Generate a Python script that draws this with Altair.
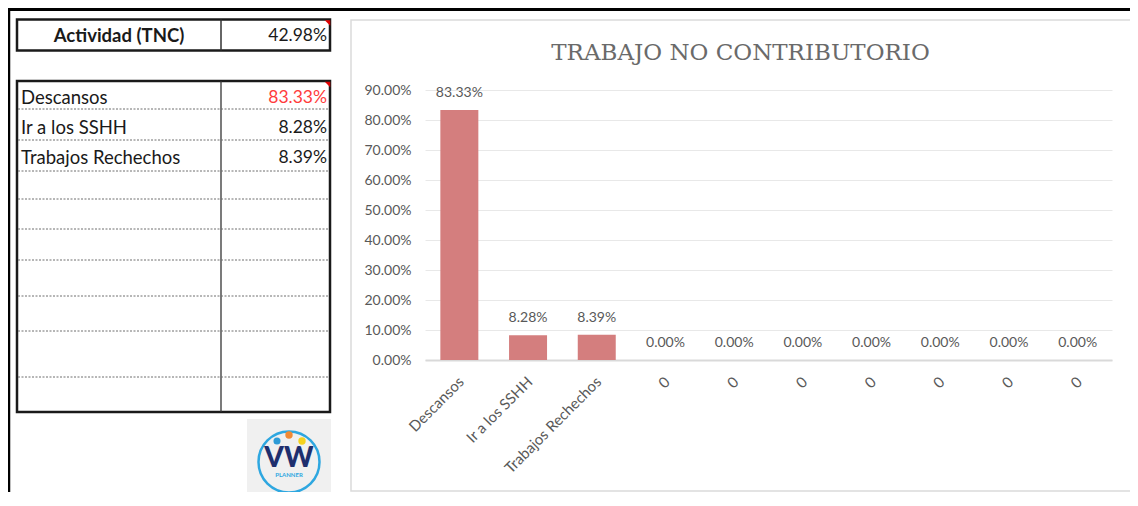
import json
import altair as alt
import pandas as pd

# ---------------- data ----------------
categories = ["Descansos", "Ir a los SSHH", "Trabajos Rechechos", "0", "0", "0", "0", "0", "0", "0"]
values = [0.8333, 0.0828, 0.0839, 0.0, 0.0, 0.0, 0.0, 0.0, 0.0, 0.0]
y_ticks = [0.0, 0.1, 0.2, 0.3, 0.4, 0.5, 0.6, 0.7, 0.8, 0.9]
chart_title = "TRABAJO NO CONTRIBUTORIO"

header_label = "Actividad (TNC)"
header_value = 0.4298
table_labels = ["Descansos", "Ir a los SSHH", "Trabajos Rechechos"]
table_values = [0.8333, 0.0828, 0.0839]
table_highlight = [True, False, False]

logo_word = "VW"
logo_sub = "PLANNER"

# ---------------- layout ----------------
OX, OY = 425, 90          # page position of the plot origin
W, H = 687, 270
PAD = {"left": OX - 8, "top": OY - 8, "right": 1122 - (OX - 8) - W, "bottom": 484 - (OY - 8) - H}


def rx(a):
    return a - OX


def ry(a):
    return a - OY


FONT = "Lato"
GRAY = "#595959"
INK = "#1a1a1a"
one = pd.DataFrame({"k": [0]})


def hline(x1, x2, y, color, width, dash=None):
    kw = dict(color=color, strokeWidth=width)
    if dash:
        kw["strokeDash"] = dash
    return alt.Chart(one).mark_rule(**kw).encode(
        x=alt.value(rx(x1)), x2=alt.value(rx(x2)), y=alt.value(ry(y)))


def vline(x, y1, y2, color, width):
    return alt.Chart(one).mark_rule(color=color, strokeWidth=width).encode(
        x=alt.value(rx(x)), y=alt.value(ry(y1)), y2=alt.value(ry(y2)))


def box(x1, x2, y1, y2, stroke, width, fill="white", fill_opacity=0.0):
    return alt.Chart(one).mark_rect(fill=fill, fillOpacity=fill_opacity,
                                    stroke=stroke, strokeWidth=width).encode(
        x=alt.value(rx(x1)), x2=alt.value(rx(x2)), y=alt.value(ry(y1)), y2=alt.value(ry(y2)))


def dot(x, y, size, color, filled=True, width=1.0, shape="circle"):
    if filled:
        m = alt.Chart(one).mark_point(shape=shape, size=size, filled=True, color=color, opacity=1)
    else:
        m = alt.Chart(one).mark_point(shape=shape, size=size, filled=False, stroke=color,
                                      strokeWidth=width, opacity=1)
    return m.encode(x=alt.value(rx(x)), y=alt.value(ry(y)))


def label(x, y, text, **kw):
    return alt.Chart(one).mark_text(text=text, **kw).encode(x=alt.value(rx(x)), y=alt.value(ry(y)))


# ---------------- bar chart ----------------
bar_df = pd.DataFrame({"idx": list(range(len(categories))), "label": categories, "value": values})
label_expr = json.dumps(categories) + "[datum.value]"

x_axis = alt.Axis(title=None, labelExpr=label_expr, labelAngle=315, labelAlign="right",
                  labelBaseline="top", labelPadding=14, labelOffset=-3, labelColor=GRAY,
                  labelFont=FONT, labelFontSize=15, labelOverlap=False, ticks=False,
                  domainColor="#D9D9D9", domainWidth=2, grid=False)
y_axis = alt.Axis(title=None, values=y_ticks, format=".2%", labelColor=GRAY, labelFont=FONT,
                  labelFontSize=14, labelPadding=14, labelOverlap=False, ticks=False,
                  domain=False, gridColor="#E8E8E8", gridWidth=1)
x_scale = alt.Scale(paddingInner=0.447, paddingOuter=0.2235)
y_scale = alt.Scale(domain=[0, 0.9], nice=False)

bars = alt.Chart(bar_df).mark_bar(color="#D47E7E").encode(
    x=alt.X("idx:O", scale=x_scale, axis=x_axis),
    y=alt.Y("value:Q", scale=y_scale, axis=y_axis))
bar_text = alt.Chart(bar_df).mark_text(dy=-17, font=FONT, fontSize=14, color=GRAY).encode(
    x=alt.X("idx:O", scale=x_scale, axis=x_axis),
    y=alt.Y("value:Q", scale=y_scale, axis=y_axis),
    text=alt.Text("value:Q", format=".2%"))
main = alt.layer(bars, bar_text)

# ---------------- table ----------------
table_df = pd.DataFrame({"row": list(range(len(table_labels))), "label": table_labels,
                         "value": table_values, "hl": table_highlight})
row_y = alt.Y("row:Q", scale=alt.Scale(domain=[0, 2], range=[ry(98), ry(157.5)], nice=False, zero=False),
              axis=None)
t_lab = alt.Chart(table_df).mark_text(align="left", baseline="middle", font=FONT, fontSize=18.5,
                                      color=INK).encode(
    x=alt.value(rx(21)), y=row_y, text="label:N")
t_val = alt.Chart(table_df).mark_text(align="right", baseline="middle", font=FONT, fontSize=17.5).encode(
    x=alt.value(rx(327)), y=row_y, text=alt.Text("value:Q", format=".2%"),
    color=alt.condition("datum.hl", alt.value("#FF3B3B"), alt.value(INK)))
table_text = alt.layer(t_lab, t_val)

header_df = pd.DataFrame({"label": [header_label], "value": [header_value]})
h_lab = alt.Chart(header_df).mark_text(align="center", baseline="middle", font=FONT, fontSize=18.5,
                                       fontWeight="bold", color=INK).encode(
    x=alt.value(rx(119)), y=alt.value(ry(36)), text="label:N")
h_val = alt.Chart(header_df).mark_text(align="right", baseline="middle", font=FONT, fontSize=17.5,
                                       color=INK).encode(
    x=alt.value(rx(327)), y=alt.value(ry(36)), text=alt.Text("value:Q", format=".2%"))

deco = [
    box(351, 1131, 20, 491, "#DADADA", 1.5),                      # chart area frame
    hline(8, 1130, 9.5, "#000000", 3),                             # sheet frame top
    vline(9, 8, 492, "#000000", 2.5),                              # sheet frame left
    box(17, 330, 19.5, 50.5, INK, 2.5),                            # header box
    vline(221, 19.5, 50.5, "#333333", 1.5),
    box(17, 330, 81, 412, INK, 2.5),                               # table box
    vline(221, 81, 412, "#333333", 1.3),
]
for yy in [109, 140, 171, 199, 229, 260, 296, 331, 377]:
    deco.append(hline(18, 329, yy, "#6E6E6E", 1, dash=[2, 1.5]))

corner = "M -1 -1 L 1 -1 L 1 1 Z"
deco += [
    dot(327.5, 23, 30, "#E00000", shape=corner),
    dot(327.5, 84.5, 30, "#E00000", shape=corner),
]

# logo
deco += [
    box(247, 331, 419, 492, "#EFEFEF", 0, fill="#F0F0F0", fill_opacity=1.0),
    dot(289, 462, 61 * 61, "#2EA7E0", filled=False, width=2.5),
    dot(277, 441, 50, "#2E9BD6"),
    dot(289, 435, 55, "#F08A34"),
    dot(302, 441, 55, "#F5D21E"),
    label(289, 459, logo_word, font=FONT, fontSize=28, fontWeight=900, color="#1E2F6E",
          align="center", baseline="middle"),
    label(289, 475, logo_sub, font=FONT, fontSize=6, fontWeight="bold", color="#2EA7E0",
          align="center", baseline="middle"),
]

title = label(740.5, 53, chart_title, font="DejaVu Serif", fontSize=23, color="#6A6A6A",
              align="center", baseline="middle")

chart = alt.layer(*deco, title, h_lab, h_val, main, table_text).resolve_scale(
    y="independent", x="independent"
).properties(
    width=W, height=H, padding=PAD, autosize=alt.AutoSizeParams(type="none"), background="white"
).configure_view(strokeWidth=0)

chart.save("out.html", embed_options={"renderer": "svg", "actions": False})
